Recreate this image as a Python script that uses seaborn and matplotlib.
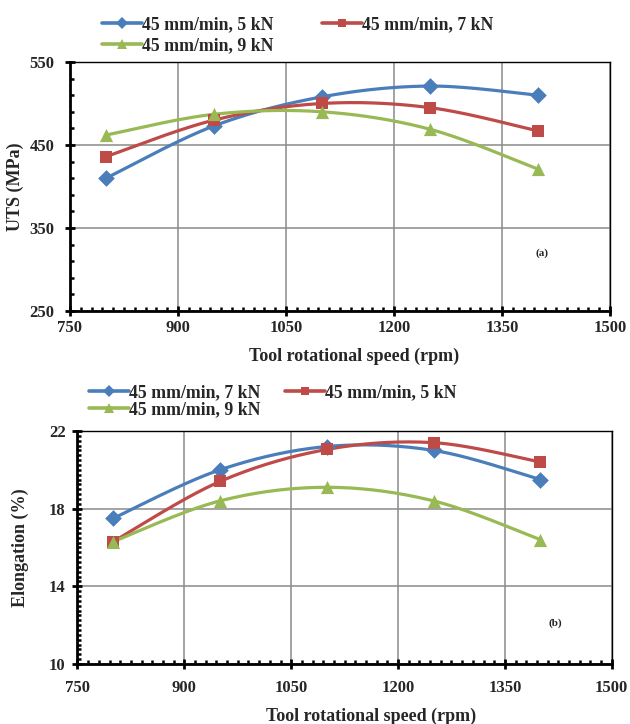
import numpy as np
import pandas as pd
import matplotlib
matplotlib.use("Agg")
import matplotlib.pyplot as plt
from matplotlib.lines import Line2D
from matplotlib.ticker import MultipleLocator
import seaborn as sns

# Tool rotational speed (rpm)
speed = [800, 950, 1100, 1250, 1400]

# Ultimate tensile strength (MPa)
uts_5kn = [410, 473, 508, 521, 510]
uts_7kn = [436, 480, 500, 495, 467]
uts_9kn = [462, 487, 490, 469, 421]

# Elongation (%)
el_7kn = [17.5, 20.0, 21.2, 21.0, 19.5]
el_5kn = [16.3, 19.4, 21.05, 21.4, 20.4]
el_9kn = [16.3, 18.4, 19.1, 18.4, 16.4]

lab_5 = "45 mm/min, 5 kN"
lab_7 = "45 mm/min, 7 kN"
lab_9 = "45 mm/min, 9 kN"

BLUE = "#4A7EBB"
RED = "#BE4B48"
GREEN = "#98B954"

sns.set_theme(style="white")
plt.rcParams["font.family"] = ["Liberation Serif", "DejaVu Serif"]
plt.rcParams["font.weight"] = "bold"


def smooth(xs, ys, n=40):
    """Cardinal-spline (Bezier) smoothing of a polyline, like spreadsheet smoothed lines."""
    p = np.column_stack([xs, ys]).astype(float)
    m = len(p)
    ext = np.vstack([p[0], p, p[-1]])
    t = np.linspace(0, 1, n)[:, None]
    out = []
    for i in range(m - 1):
        p0, p1, p2, p3 = ext[i], ext[i + 1], ext[i + 2], ext[i + 3]
        c1 = p1 + (p2 - p0) / 6.0
        c2 = p2 - (p3 - p1) / 6.0
        seg = ((1 - t) ** 3) * p1 + 3 * ((1 - t) ** 2) * t * c1 + 3 * (1 - t) * t ** 2 * c2 + t ** 3 * p2
        out.append(seg if i == 0 else seg[1:])
    s = np.vstack(out)
    return s[:, 0], s[:, 1]


def draw_panel(ax, series, ylim, ymajor, yoff, yminor, tag, tag_xy, xpad, ypad):
    curves = []
    points = []
    for name, vals, color, marker, ms in series:
        cx, cy = smooth(speed, vals)
        curves.append(pd.DataFrame({"x": cx, "y": cy, "s": name}))
        points.append(pd.DataFrame({"x": speed, "y": vals, "s": name}))
    cdf = pd.concat(curves, ignore_index=True)
    pdf = pd.concat(points, ignore_index=True)
    palette = {s[0]: s[2] for s in series}
    sns.lineplot(data=cdf, x="x", y="y", hue="s", palette=palette, sort=False,
                 estimator=None, units="s", lw=2.3, legend=False, ax=ax, zorder=3)
    for name, vals, color, marker, ms in series:
        sub = pdf[pdf["s"] == name]
        sns.scatterplot(data=sub, x="x", y="y", color=color, marker=marker, s=ms ** 2,
                        edgecolor=color, linewidth=0, legend=False, ax=ax, zorder=4)

    ax.set_xlim(750, 1500)
    ax.set_ylim(*ylim)
    ax.xaxis.set_major_locator(MultipleLocator(150))
    ax.xaxis.set_minor_locator(MultipleLocator(15))
    ax.yaxis.set_major_locator(MultipleLocator(ymajor, offset=yoff))
    ax.yaxis.set_minor_locator(MultipleLocator(yminor, offset=yoff % yminor))
    ax.grid(True, which="major", color="#8a8a8a", lw=1.1)
    ax.set_axisbelow(True)
    for side in ["left", "bottom"]:
        ax.spines[side].set_color("black")
        ax.spines[side].set_linewidth(2.0)
    for side in ["top", "right"]:
        ax.spines[side].set_color("black")
        ax.spines[side].set_linewidth(1.0)
    ax.tick_params(which="major", direction="inout", length=7, width=2.0, color="black",
                   labelsize=12, left=True, bottom=True)
    ax.tick_params(axis="x", which="major", pad=xpad)
    ax.tick_params(axis="y", which="major", pad=ypad)
    ax.tick_params(which="minor", direction="in", length=3, width=1.8, color="black",
                   left=True, bottom=True)
    for lbl in ax.get_xticklabels() + ax.get_yticklabels():
        lbl.set_fontweight("bold")
    ax.text(tag_xy[0], tag_xy[1], tag, fontsize=8, fontweight="bold", ha="center", va="center")


def handles_for(series):
    return [Line2D([0], [0], color=c, lw=2.6, marker=m, markersize=ms * 0.7,
                   markeredgewidth=0) for _, _, c, m, ms in series]


fig = plt.figure(figsize=(6.3, 7.24), dpi=100)
ax1 = fig.add_axes([0.1111, 0.5704, 0.857, 0.344])
ax2 = fig.add_axes([0.123, 0.0829, 0.848, 0.3218])

ser_a = [(lab_5, uts_5kn, BLUE, "D", 8.5),
         (lab_7, uts_7kn, RED, "s", 9.0),
         (lab_9, uts_9kn, GREEN, "^", 9.5)]
draw_panel(ax1, ser_a, (250, 550), 100, 50, 20, "(a)", (1405, 320), xpad=3, ypad=7.5)
ax1.set_xlabel("Tool rotational speed (rpm)", fontsize=13, fontweight="bold")
ax1.set_ylabel("UTS (MPa)", fontsize=13, fontweight="bold")
ax1.xaxis.set_label_coords(0.526, -0.148)
ax1.yaxis.set_label_coords(-0.085, 0.5)

ser_b = [(lab_7, el_7kn, BLUE, "D", 8.5),
         (lab_5, el_5kn, RED, "s", 9.0),
         (lab_9, el_9kn, GREEN, "^", 9.5)]
draw_panel(ax2, ser_b, (10, 22), 4, 2, 0.25, "(b)", (1421, 12.1), xpad=8, ypad=5)
ax2.set_xlabel("Tool rotational speed (rpm)", fontsize=13, fontweight="bold")
ax2.set_ylabel("Elongation (%)", fontsize=13, fontweight="bold")
ax2.xaxis.set_label_coords(0.549, -0.186)
ax2.yaxis.set_label_coords(-0.09, 0.5)

# Legends above each panel: two entries on the first row, one on the second
ha = handles_for(ser_a)
fig.legend([ha[0], ha[2], ha[1]], [lab_5, lab_9, lab_7], ncol=2, loc="upper left",
           bbox_to_anchor=(0.162, 0.978), frameon=False, borderpad=0, borderaxespad=0,
           handlelength=2.25, handletextpad=0.0, columnspacing=2.75, labelspacing=0.25,
           prop={"family": "Liberation Serif", "weight": "bold", "size": 12.8})
hb = handles_for(ser_b)
fig.legend([hb[0], hb[2], hb[1]], [lab_7, lab_9, lab_5], ncol=2, loc="upper left",
           bbox_to_anchor=(0.141, 0.469), frameon=False, borderpad=0, borderaxespad=0,
           handlelength=2.25, handletextpad=0.0, columnspacing=1.4, labelspacing=0.0,
           prop={"family": "Liberation Serif", "weight": "bold", "size": 12.8})

fig.savefig("out.png", dpi=100)
